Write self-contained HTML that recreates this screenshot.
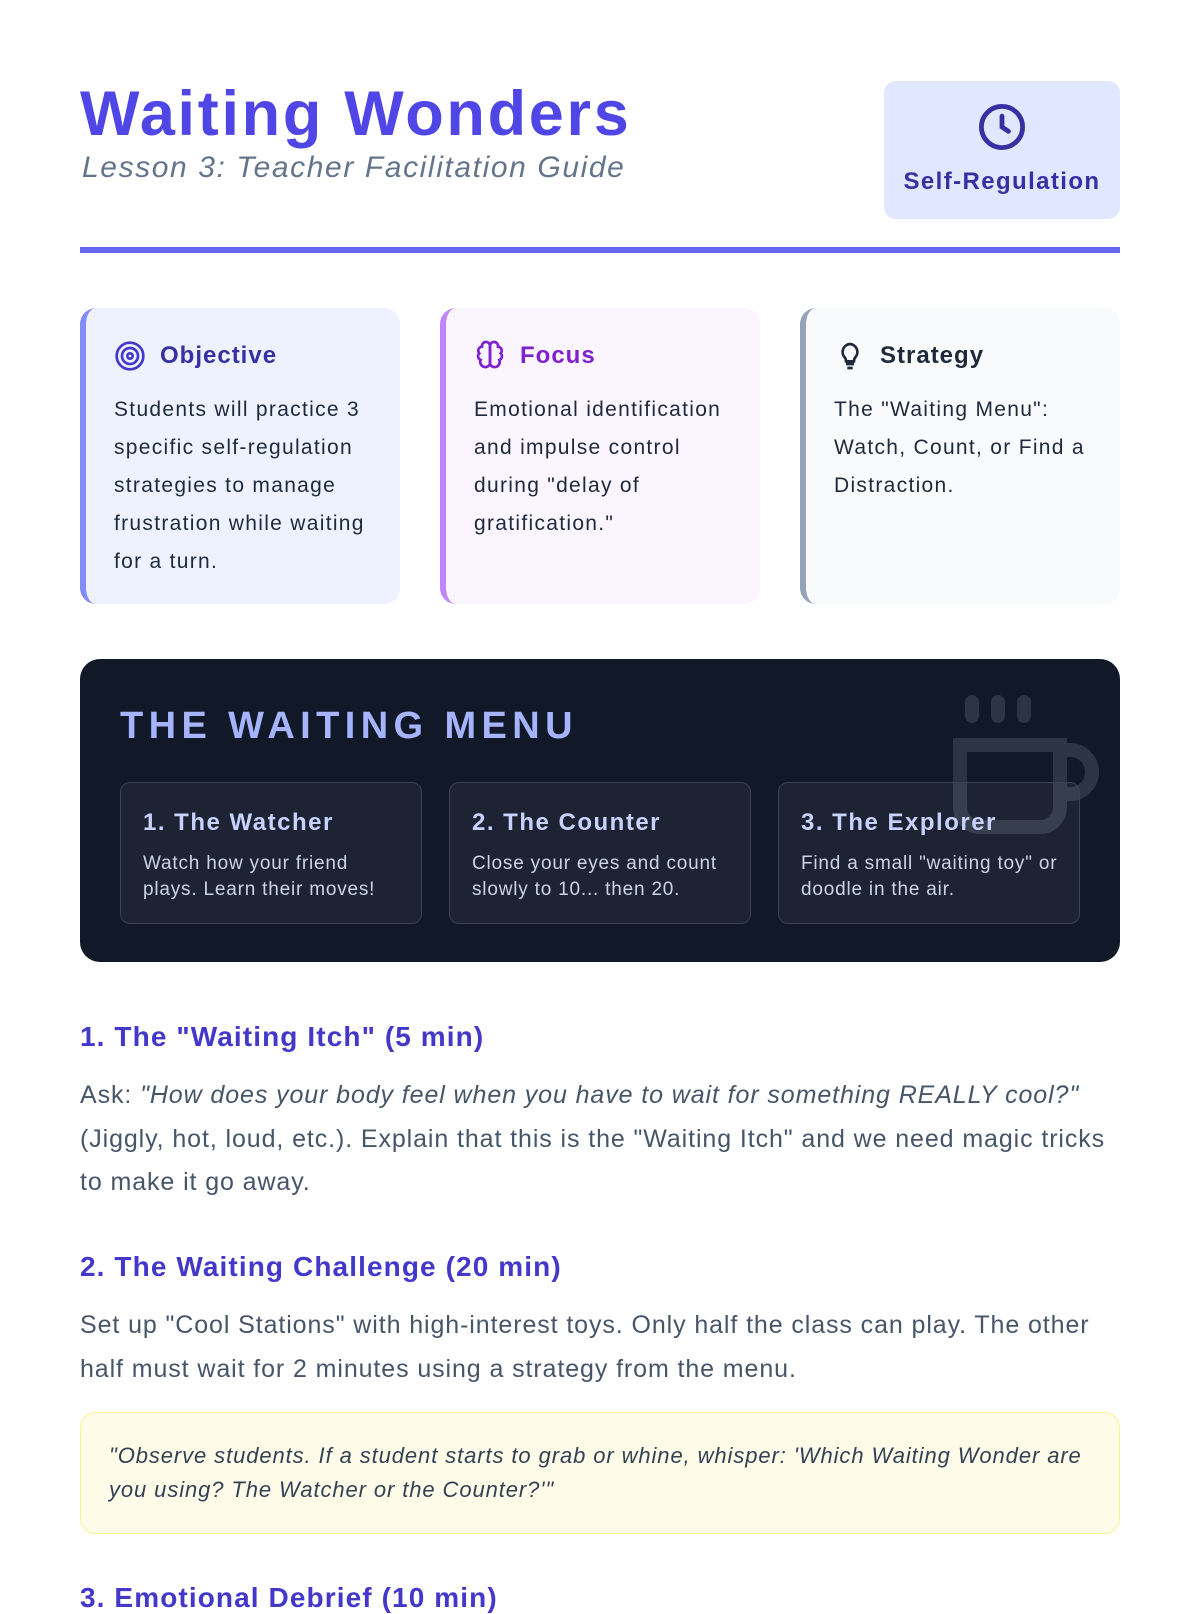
<!DOCTYPE html>
<html><head><meta charset="utf-8">
<style>
*{box-sizing:border-box;margin:0;padding:0}
body{width:1200px;height:1600px;overflow:hidden;background:#fff;font-family:"Liberation Sans",sans-serif;color:#475569;position:relative}
.abs{position:absolute}
h1{position:absolute;left:80px;top:78px;font-size:63px;font-weight:bold;color:#4f46e5;letter-spacing:2.7px;white-space:nowrap}
.sub{left:82px;top:151px;font-size:30px;font-style:italic;color:#64748b;letter-spacing:1.6px;white-space:nowrap}
.badge{left:884px;top:81px;width:236px;height:138px;background:#e0e7ff;border-radius:12px;text-align:center;color:#3730a3;font-weight:bold;font-size:24px;letter-spacing:1.4px}
.rule{left:80px;top:247px;width:1040px;height:6px;background:#6366f1}
.card{top:308px;width:320px;height:296px;border-radius:16px;border-left:6px solid;padding:31px 0 0 28px}
.card .t{font-size:24px;font-weight:bold;display:flex;align-items:center;gap:14px;height:34px;letter-spacing:1px}
.card p{margin-top:18px;font-size:21px;line-height:38px;color:#1e293b;white-space:nowrap;letter-spacing:1.3px}
.dark{left:80px;top:659px;width:1040px;height:303px;background:#111827;border-radius:20px;overflow:hidden}
.dark h2{position:absolute;left:40px;top:46px;font-size:38px;letter-spacing:5.4px;color:#a5b4fc;font-weight:bold;white-space:nowrap}
.mi{position:absolute;top:123px;width:302px;height:142px;border:1px solid #3b4252;border-radius:10px;background:rgba(255,255,255,0.05);padding:26px 0 0 22px;white-space:nowrap}
.mi b{display:block;font-size:24px;color:#c7d2fe;letter-spacing:1.5px}
.mi span{display:block;margin-top:14px;font-size:19px;line-height:26px;color:#cbd5e1;letter-spacing:0.8px}
.h3{left:80px;font-size:28px;font-weight:bold;color:#4338ca;letter-spacing:1.1px;white-space:nowrap}
.para{left:80px;width:1100px;font-size:25px;line-height:43.5px;color:#475569;white-space:nowrap;letter-spacing:0.9px}
.quote{left:80px;top:1412px;width:1040px;height:122px;background:#fefce8;border:1px solid #fef08a;border-radius:16px;padding:26px 28px;font-size:22px;line-height:34px;font-style:italic;color:#334155;white-space:nowrap;letter-spacing:0.9px}
</style></head><body>
<h1>Waiting Wonders</h1>
<div class="abs sub">Lesson 3: Teacher Facilitation Guide</div>
<div class="abs badge">
<svg width="52" height="52" viewBox="0 0 24 24" style="margin-top:20px" fill="none" stroke="#3730a3" stroke-width="2.2" stroke-linecap="round"><circle cx="12" cy="12" r="9.5"/><path d="M12 7v5l3 2"/></svg>
<div style="margin-top:8px">Self-Regulation</div></div>
<div class="abs rule"></div>

<div class="abs card" style="left:80px;background:#eef2ff;border-color:#818cf8">
<div class="t" style="color:#3730a3"><svg width="32" height="32" viewBox="0 0 24 24" fill="none" stroke="#4338ca" stroke-width="2"><circle cx="12" cy="12" r="10"/><circle cx="12" cy="12" r="6"/><circle cx="12" cy="12" r="2"/></svg>Objective</div>
<p>Students will practice 3<br>specific self-regulation<br>strategies to manage<br>frustration while waiting<br>for a turn.</p></div>

<div class="abs card" style="left:440px;background:#faf5ff;border-color:#c084fc">
<div class="t" style="color:#7e22ce"><svg width="32" height="32" viewBox="0 0 24 24" fill="none" stroke="#7e22ce" stroke-width="2"><path d="M12 4a3 3 0 0 0-6 1 3 3 0 0 0-2 5 3 3 0 0 0 1 5 3 3 0 0 0 7 3zM12 4a3 3 0 0 1 6 1 3 3 0 0 1 2 5 3 3 0 0 1-1 5 3 3 0 0 1-7 3z"/><path d="M12 4v16"/></svg>Focus</div>
<p>Emotional identification<br>and impulse control<br>during "delay of<br>gratification."</p></div>

<div class="abs card" style="left:800px;background:#f8fafc;border-color:#94a3b8">
<div class="t" style="color:#1e293b"><svg width="32" height="32" viewBox="0 0 24 24" fill="none" stroke="#1e293b" stroke-width="2"><path d="M9 18h6M10 21h4M12 3a6 6 0 0 0-4 10c1 1 1 2 1 3h6c0-1 0-2 1-3a6 6 0 0 0-4-10z"/></svg>Strategy</div>
<p>The "Waiting Menu":<br>Watch, Count, or Find a<br>Distraction.</p></div>

<div class="abs dark">
<svg class="abs" style="left:870px;top:31px" width="160" height="150" viewBox="0 0 160 150" fill="none" stroke="#2d3444" stroke-width="14" stroke-linecap="round"><path d="M22 12v14M48 12v14M74 12v14"/><path d="M10 55h100v62a20 20 0 0 1-20 20H30a20 20 0 0 1-20-20z"/><path d="M110 60h10a22 22 0 0 1 0 44h-10"/></svg>
<h2>THE WAITING MENU</h2>
<div class="mi" style="left:40px"><b>1. The Watcher</b><span>Watch how your friend<br>plays. Learn their moves!</span></div>
<div class="mi" style="left:369px"><b>2. The Counter</b><span>Close your eyes and count<br>slowly to 10... then 20.</span></div>
<div class="mi" style="left:698px"><b>3. The Explorer</b><span>Find a small "waiting toy" or<br>doodle in the air.</span></div>
</div>

<div class="abs h3" style="top:1021px">1. The "Waiting Itch" (5 min)</div>
<div class="abs para" style="top:1074px">Ask: <i>"How does your body feel when you have to wait for something REALLY cool?"</i><br>(Jiggly, hot, loud, etc.). Explain that this is the "Waiting Itch" and we need magic tricks<br>to make it go away.</div>
<div class="abs h3" style="top:1251px">2. The Waiting Challenge (20 min)</div>
<div class="abs para" style="top:1304px">Set up "Cool Stations" with high-interest toys. Only half the class can play. The other<br>half must wait for 2 minutes using a strategy from the menu.</div>
<div class="abs quote">"Observe students. If a student starts to grab or whine, whisper: 'Which Waiting Wonder are<br>you using? The Watcher or the Counter?'"</div>
<div class="abs h3" style="top:1582px">3. Emotional Debrief (10 min)</div>
</body></html>
